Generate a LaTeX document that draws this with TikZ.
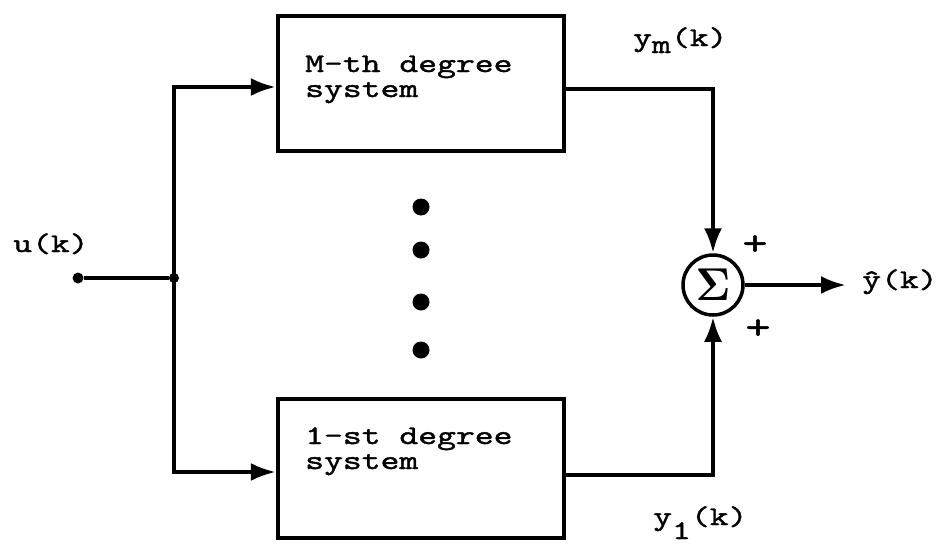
\documentclass[tikz,border=0pt]{standalone}
\usepackage[no-math]{fontspec}
\usepackage{graphicx}
\newfontfamily\tw{lmmono10-regular}[Extension=.otf,FakeStretch=1.33,FakeBold=1.4]
\usetikzlibrary{arrows.meta}
\begin{document}
\begin{tikzpicture}[x=1pt,y=-1pt,
  wire/.style={line width=4.2pt},
  arr/.style={wire,-{Latex[length=25pt,width=18pt]}},
  blk/.style={draw,line width=4.2pt,minimum width=286pt,inner sep=0pt},
  lbl/.style={font=\tw\fontsize{27}{25}\selectfont,inner sep=0pt},
  sign/.style={font=\tw\fontsize{36}{36}\selectfont,inner sep=0pt},
  bigdot/.style={circle,fill,minimum size=17pt,inner sep=0pt},
  smalldot/.style={circle,fill,minimum size=11pt,inner sep=0pt},
  sumnode/.style={circle,draw,line width=3.5pt,minimum size=60pt,inner sep=0pt}]
\useasboundingbox (0,0) rectangle (938,544);
% boxes
\node[blk,minimum height=135pt] (top) at (421,83.5) {};
\node[blk,minimum height=139pt] (bot) at (421,468.5) {};
\node[lbl,anchor=base west] (topA) at (305,72) {M-th degree};
\node[lbl,anchor=base west] (topB) at (305,97) {system};
\node[lbl,anchor=base west] (botA) at (305,444) {1-st degree};
\node[lbl,anchor=base west] (botB) at (305,469) {system};
% input
\node[smalldot] (in) at (78,278) {};
\node[smalldot,minimum size=10pt] (jn) at (174,278) {};
\node[lbl,anchor=base west] (ulab) at (13,252) {u(k)};
\draw[wire] (in) -- (jn);
\draw[arr] (jn.center) |- ([yshift=-3.5pt]top.west);
\draw[arr] (jn.center) |- ([yshift=-3.5pt]bot.west);
% dots
\node[bigdot] (d1) at (421,207) {};
\node[bigdot] (d2) at (421,250) {};
\node[bigdot] (d3) at (421,302) {};
\node[bigdot] (d4) at (421,350) {};
% summing junction
\node[sumnode] (sum) at (713,285) {\scalebox{4.2}[4.6]{$\mathbf{\Sigma}$}};
\draw[arr] ([yshift=-5.5pt]top.east) -| (sum.north);
\draw[arr] ([yshift=-6.5pt]bot.east) -| (sum.south);
\coordinate (out) at (846,285);
\draw[arr] (sum.east) -- (out);
\node[sign] (p1) at (755,245) {+};
\node[sign] (p2) at (758,329) {+};
% signal labels
\node[lbl,anchor=base west] (ym) at (633,46) {y\raisebox{-7pt}{m}(k)};
\node[lbl,anchor=base west] (y1) at (653,525) {y\raisebox{-14pt}{1}(k)};
\node[lbl,anchor=base west] (yh) at (862,288) {ŷ(k)};
\end{tikzpicture}
\end{document}
